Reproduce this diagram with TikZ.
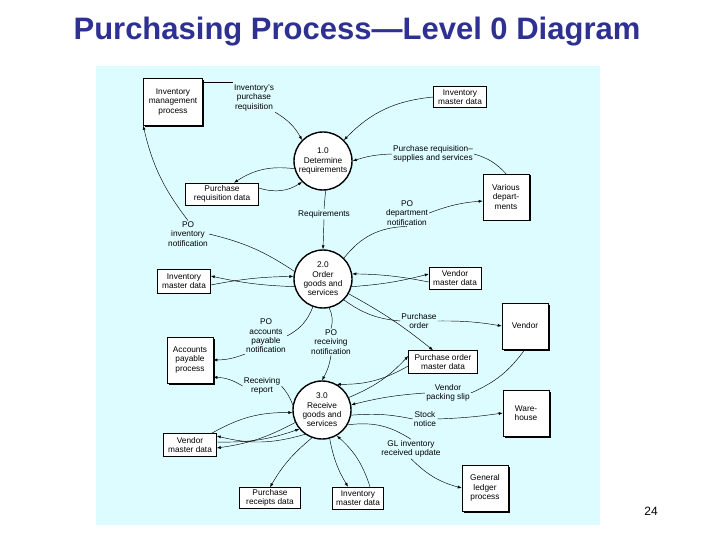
\documentclass[tikz,border=0pt]{standalone}
\usepackage{fontspec}
\setmainfont{Liberation Sans}
\usetikzlibrary{arrows.meta,shapes.geometric,shadows}
\definecolor{titleblue}{HTML}{2E3192}
\definecolor{panel}{HTML}{DDFCFF}
\begin{document}
\begin{tikzpicture}[x=1pt,y=-1pt,
  txt/.style={font=\fontsize{8.3}{9.3}\selectfont,align=center,inner sep=1pt},
  ent/.style={draw,line width=0.6pt,fill=white,txt,minimum width=46pt,minimum height=46pt,
    drop shadow={shadow xshift=1.5pt,shadow yshift=-1.5pt,fill=black,opacity=1}},
  store/.style={draw,line width=0.5pt,fill=white,txt,inner xsep=3pt},
  proc/.style={circle,draw,line width=1.4pt,fill=white,txt,minimum size=58pt,inner sep=0pt},
  lbl/.style={txt,fill=panel},
  fl/.style={-{Latex[length=4pt,width=3pt]},line width=0.45pt},
  ln/.style={line width=0.45pt}]
\useasboundingbox (0,0) rectangle (720,540);
\fill[white] (0,0) rectangle (720,540);
\fill[panel] (96,66) rectangle (600,525);
\node[font=\bfseries\fontsize{31}{34}\selectfont,text=titleblue] (title) at (357,32) {Purchasing Process---Level 0 Diagram};
\node[font=\fontsize{12}{14}\selectfont] (pg) at (651,511) {24};

% processes
\node[proc] (c1) at (323,161) {1.0\\Determine\\requirements};
\node[proc] (c2) at (323,279) {2.0\\Order\\goods and\\services};
\node[proc] (c3) at (322,410) {3.0\\Receive\\goods and\\services};

% entities
\node[ent,minimum width=59pt,minimum height=47pt] (imp) at (173,102) {Inventory\\management\\process};
\node[ent] (vd) at (506,197) {Various\\depart-\\ments};
\node[ent] (ven) at (525,326) {Vendor};
\node[ent] (ap) at (190,360) {Accounts\\payable\\process};
\node[ent] (wh) at (526,413) {Ware-\\house};
\node[ent] (gl) at (485,488) {General\\ledger\\process};

% stores
\node[store,minimum width=53pt,minimum height=21pt] (imd1) at (460,97) {Inventory\\master data};
\node[store,minimum width=73pt,minimum height=22pt] (prd) at (222,194) {Purchase\\requisition data};
\node[store,minimum width=53pt,minimum height=24pt] (imd2) at (184,281) {Inventory\\master data};
\node[store,minimum width=52pt,minimum height=22pt] (vmd1) at (455,278) {Vendor\\master data};
\node[store,minimum width=69pt,minimum height=23pt] (pomd) at (443,362) {Purchase order\\master data};
\node[store,minimum width=53pt,minimum height=23pt] (vmd2) at (190,445) {Vendor\\master data};
\node[store,minimum width=61pt,minimum height=21pt] (prcd) at (270,498) {Purchase\\receipts data};
\node[store,minimum width=51pt,minimum height=22pt] (imd3) at (358,498) {Inventory\\master data};

% labels
\node[lbl] (l1) at (254,98) {Inventory's\\purchase\\requisition};
\node[lbl] (l2) at (433,154) {Purchase requisition--\\supplies and services};
\node[lbl] (l3) at (324,214) {Requirements};
\node[lbl] (l4) at (407,213) {PO\\department\\notification};
\node[lbl] (l5) at (188,234) {PO\\inventory\\notification};
\node[lbl] (l6) at (419,321) {Purchase\\order};
\node[lbl] (l7) at (266,336) {PO\\accounts\\payable\\notification};
\node[lbl] (l8) at (331,342) {PO\\receiving\\notification};
\node[lbl] (l9) at (262,386) {Receiving\\report};
\node[lbl] (l10) at (448,393) {Vendor\\packing slip};
\node[lbl] (l11) at (425,419) {Stock\\notice};
\node[lbl] (l12) at (411,449) {GL inventory\\received update};

% flows
\coordinate (a1) at (imp.east |- l1.north);
\draw[ln] ([yshift=2pt]a1) -- ([yshift=2pt]l1.north west);
\draw[fl] (l1.south east) to[bend left=15] (c1.north west);
\draw[fl] (imd1.west) to[bend right=20] (c1.north east);
\draw[ln] (vd.north) to[bend right=15] (l2.east);
\draw[fl] (l2.west) to[bend right=8] (c1.east);
\draw[fl] (c1.195) to[bend right=20] ([xshift=12pt]prd.north);
\draw[fl] ([yshift=6pt]prd.east) to[bend right=25] (c1.south west);
\draw[ln] (c1.275) -- (l3.north);
\draw[fl] (l3.south) -- (c2.north);
\draw[ln] (c2.north east) to[bend left=25] (l4.south);
\draw[fl] (l4.east) to[bend left=8] ([yshift=-4pt]vd.west);
\draw[ln] (c2.165) to[bend right=10] (l5.east);
\draw[fl] (l5.north) to[bend left=12] (imp.south west);
\draw[fl] ([yshift=-4pt]imd2.east) to[bend left=5] (c2.175);
\draw[fl] (c2.195) to[bend left=5] ([yshift=5pt]imd2.east);
\draw[fl] ([yshift=-4pt]vmd1.west) to[bend right=5] (c2.10);
\draw[fl] (c2.345) to[bend right=5] ([yshift=4pt]vmd1.west);
\draw[ln] (c2.south east) to[bend right=15] (l6.west);
\draw[fl] (l6.east) to[bend left=5] (ven.west);
\draw[fl] (c2.330) to[bend left=5] ([xshift=-10pt]pomd.north);
\draw[ln] (c2.250) to[bend left=20] (l7.east);
\draw[fl] (l7.south west) to[bend left=10] (ap.east);
\draw[ln] (c2.282) to[bend left=20] (l8.north);
\draw[fl] (l8.south) to[bend left=10] (c3.north);
\draw[fl] ([yshift=-4pt]pomd.west) to[bend left=15] (c3.60);
\draw[fl] (c3.25) to[bend right=12] ([yshift=6pt]pomd.west);
\draw[ln] (ven.south) to[bend left=15] (l10.east);
\draw[fl] (l10.west) to[bend right=5] (c3.10);
\draw[ln] (c3.350) to[bend left=8] (l11.west);
\draw[fl] (l11.east) to[bend right=3] (wh.west);
\draw[ln] (c3.330) to[bend left=20] (l12.north);
\draw[fl] (l12.south) to[bend right=15] (gl.west);
\draw[ln] (c3.170) to[bend right=10] (l9.east);
\draw[fl] (l9.west) to[bend right=15] ([yshift=6pt]ap.south east);
\draw[fl] ([xshift=-5pt]vmd2.north east) to[bend left=15] (c3.185);
\draw[fl] (c3.205) to[bend left=10] ([yshift=-3pt]vmd2.east);
\draw[fl] ([yshift=3pt]vmd2.east) to[bend right=10] (c3.220);
\draw[fl] (c3.235) to[bend left=15] ([yshift=9pt]vmd2.east);
\draw[fl] (c3.250) to[bend right=10] (prcd.north);
\draw[fl] (c3.285) to[bend right=10] ([xshift=-10pt]imd3.north);
\draw[fl] ([xshift=12pt]imd3.north) to[bend right=15] (c3.300);
\end{tikzpicture}
\end{document}
